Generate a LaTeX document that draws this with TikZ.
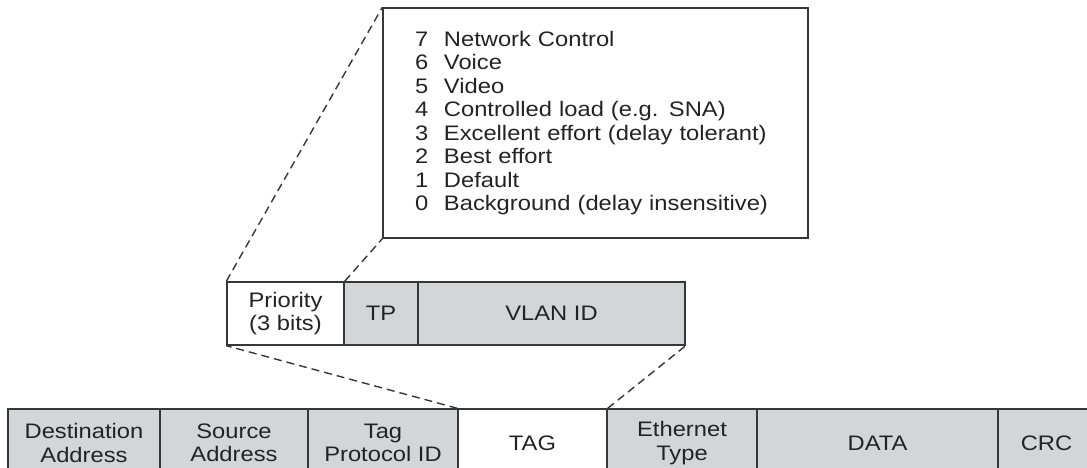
\documentclass[tikz,border=0pt]{standalone}
\usepackage{fontspec}
\setmainfont[FakeStretch=1.13]{Liberation Sans}
\definecolor{fieldgray}{RGB}{212,213,215}
\definecolor{linegray}{RGB}{55,55,55}
\definecolor{textgray}{RGB}{35,35,35}
\newcommand{\prionum}[1]{\makebox[29pt][l]{#1}}
\tikzset{
  field/.style={draw=linegray, line width=1.4pt, fill=fieldgray, inner sep=0pt,
    align=center, text=textgray, font={\fontsize{21pt}{23.5pt}\selectfont}},
  zoomline/.style={draw=linegray, line width=1.4pt, dash pattern=on 8pt off 5pt}
}
\begin{document}
\begin{tikzpicture}[x=1pt,y=-1pt]
\useasboundingbox (0,0) rectangle (1087,468);
\clip (0,0) rectangle (1087,468);
% ethernet frame
\node[field, minimum width=152, minimum height=68] (dst) at (84,443) {Destination\\Address};
\node[field, minimum width=148, minimum height=68] (src) at (234,443) {Source\\Address};
\node[field, minimum width=150, minimum height=68] (tpid) at (383,443) {Tag\\Protocol ID};
\node[field, fill=white, minimum width=149, minimum height=68] (tag) at (532.5,443) {TAG};
\node[field, minimum width=150, minimum height=68] (etype) at (682,443) {Ethernet\\Type};
\node[field, minimum width=241, minimum height=68] (data) at (877.5,443) {DATA};
\node[field, minimum width=97, minimum height=68] (crc) at (1046.5,443) {CRC};

% tag fields
\node[field, fill=white, minimum width=117, minimum height=63] (prio) at (285.5,313.5) {Priority\\(3 bits)};
\node[field, minimum width=74, minimum height=63] (tp) at (381,313.5) {TP};
\node[field, minimum width=267, minimum height=63] (vlan) at (551.5,313.5) {VLAN ID};

% priority values
\node[field, fill=white, minimum height=230, text width=361, inner xsep=32, align=left] (prios) at (595.5,123) {%
\prionum{7}Network Control\\
\prionum{6}Voice\\
\prionum{5}Video\\
\prionum{4}Controlled load (e.g. SNA)\\
\prionum{3}Excellent effort (delay tolerant)\\
\prionum{2}Best effort\\
\prionum{1}Default\\
\prionum{0}Background (delay insensitive)};

\path[zoomline] (prio.north west) -- (prios.north west);
\path[zoomline] (prio.north east) -- (prios.south west);
\path[zoomline] (tag.north west) -- (prio.south west);
\path[zoomline] (tag.north east) -- (vlan.south east);
\end{tikzpicture}
\end{document}
